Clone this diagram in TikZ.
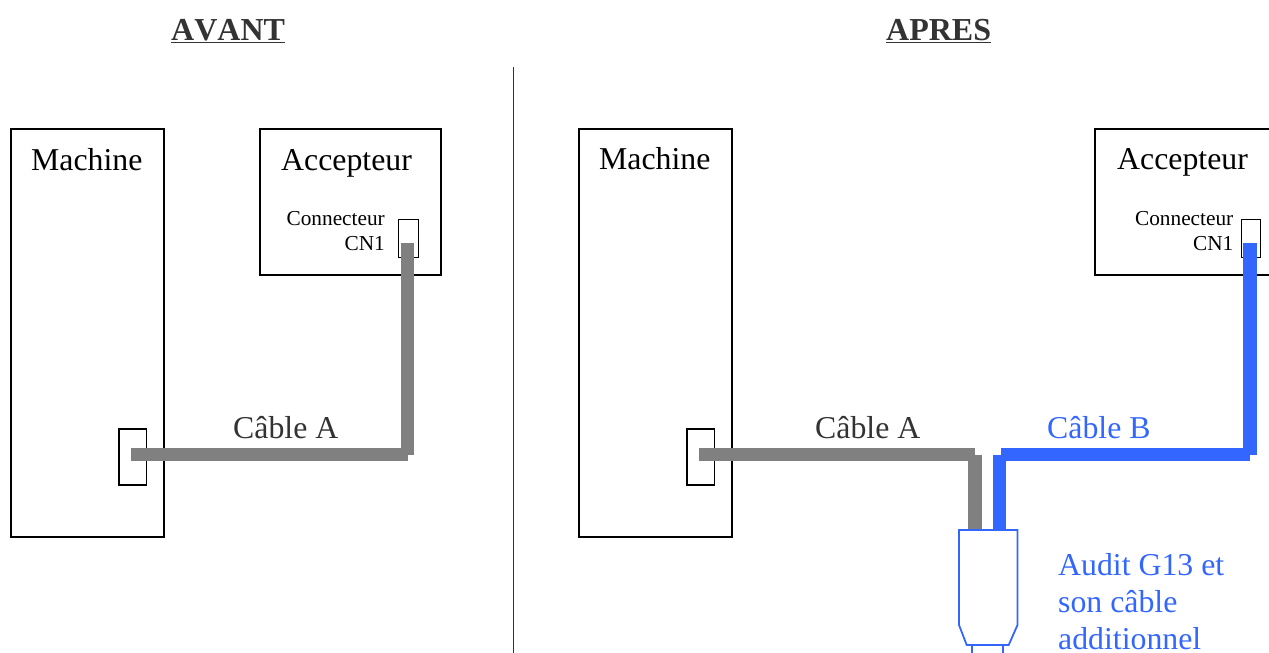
\documentclass[tikz,border=0pt]{standalone}
\usepackage{fontspec}
\usepackage{xcolor}
\setmainfont{Liberation Serif}
\usetikzlibrary{positioning,calc}
\definecolor{CableGray}{HTML}{808080}
\definecolor{CableBlue}{HTML}{3366FF}
\definecolor{TextGray}{HTML}{333333}
\begin{document}
\begin{tikzpicture}[
    x=1pt,y=-1pt,
    box/.style={draw=black, line width=1.3pt, inner sep=0pt, outer sep=0pt},
    machine/.style={box, minimum width=153pt, minimum height=408pt},
    accepteur/.style={box, minimum width=181pt, minimum height=146pt},
    conn/.style={box, minimum width=27.5pt, minimum height=56pt},
    connsmall/.style={box, minimum width=19.5pt, minimum height=38pt},
    label/.style={anchor=base west, inner sep=0pt, font=\fontsize{31.8}{36}\selectfont},
    smalllabel/.style={anchor=base east, inner sep=0pt, font=\fontsize{21.3}{24}\selectfont},
    title/.style={label, text=TextGray, font=\fontsize{32}{36}\selectfont\bfseries\addfontfeatures{Kerning=Off}},
    graycable/.style={draw=CableGray, line width=13.5pt},
    bluecable/.style={draw=CableBlue, line width=13.5pt},
    plug/.style={draw=CableBlue, line width=1.8pt}
  ]
    \useasboundingbox (0,0) rectangle (1269,653);

    \node[title] (avant) at (171,40) {\underline{AVANT}};
    \node[title] (apres) at (886,40) {\underline{APRES}};

    \coordinate (septop) at (513,67);
    \coordinate (sepbot) at (513,653);
    \draw[line width=1pt, draw=TextGray] (septop) -- (sepbot);

    % avant
    \node[machine] (m1) at (87.5,333) {};
    \node[accepteur] (a1) at (350.5,202) {};
    \node[conn] (c1) at (132.7,457) {};
    \node[connsmall] (n1) at (408.5,238.3) {};
    \node[label] (m1txt) at (31,170) {Machine};
    \node[label] (a1txt) at (281,170) {Accepteur};
    \node[smalllabel] (n1txta) at (385,225) {Connecteur};
    \node[smalllabel] (n1txtb) at (385,250) {CN1};
    \node[label, text=TextGray] (cablea1) at (233,438) {Câble A};

    \coordinate (g1a) at (131,454.7);
    \coordinate (g1b) at (407.5,454.7);
    \coordinate (g1c) at (407.5,243);
    \draw[graycable] (g1a) -- (g1b);
    \draw[graycable] (g1b) -- (g1c);

    % apres
    \node[machine] (m2) at (655.5,333) {};
    \node[accepteur, minimum width=185pt] (a2) at (1187.5,202) {};
    \node[conn] (c2) at (700.7,457) {};
    \node[connsmall] (n2) at (1251,238.3) {};
    \node[label] (m2txt) at (599,169) {Machine};
    \node[label] (a2txt) at (1117,169) {Accepteur};
    \node[smalllabel] (n2txta) at (1233.5,225) {Connecteur};
    \node[smalllabel] (n2txtb) at (1233.5,250) {CN1};
    \node[label, text=TextGray] (cablea2) at (815,438) {Câble A};
    \node[label, text=CableBlue] (cableb) at (1047,438) {Câble B};

    \coordinate (g2a) at (699,454.7);
    \coordinate (g2b) at (975,454.7);
    \coordinate (g2c) at (975,530);
    \draw[graycable] (g2a) -- (g2b);
    \draw[graycable] (g2b) -- (g2c);

    \coordinate (b2a) at (999.5,530);
    \coordinate (b2b) at (999.5,454.7);
    \coordinate (b2c) at (1001,454.7);
    \coordinate (b2d) at (1250,454.7);
    \coordinate (b2e) at (1250,243);
    \draw[bluecable] (b2a) -- (b2b);
    \draw[bluecable] (b2c) -- (b2d);
    \draw[bluecable] (b2d) -- (b2e);

    \coordinate (p1) at (959,530);
    \coordinate (p2) at (1017.5,530);
    \coordinate (p3) at (1017.5,625);
    \coordinate (p4) at (1008.7,645);
    \coordinate (p5) at (966.7,645);
    \coordinate (p6) at (959,625);
    \draw[plug] (p1) -- (p2) -- (p3) -- (p4) -- (p5) -- (p6) -- cycle;
    \coordinate (t1) at (972,645);
    \coordinate (t2) at (972,660);
    \coordinate (t3) at (1003,645);
    \coordinate (t4) at (1003,660);
    \draw[plug] (t1) -- (t2) -- (t4) -- (t3);

    \node[label, text=CableBlue] (aud1) at (1058,575.5) {Audit G13 et};
    \node[label, text=CableBlue] (aud2) at (1058,612.5) {son câble};
    \node[label, text=CableBlue] (aud3) at (1058,649.5) {additionnel};
  \end{tikzpicture}
\end{document}
